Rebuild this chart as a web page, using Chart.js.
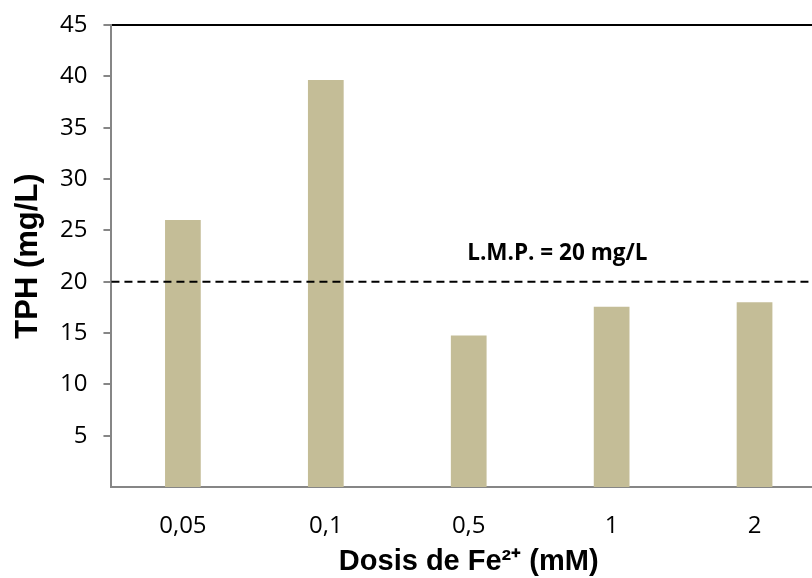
<!DOCTYPE html>
<html>
<head>
<meta charset="utf-8">
<script src="https://cdn.jsdelivr.net/npm/chart.js@4"></script>
<style>
    html, body { margin: 0; padding: 0; background: #fff; overflow: hidden; }
    #wrap { width: 840px; height: 578px; }
</style>
</head>
<body>
<div id="wrap"><canvas id="tphChart"></canvas></div>
<script>
// ===== Data =====
const doses = ["0,05", "0,1", "0,5", "1", "2"];
const tphValues = [26.0, 39.65, 14.75, 17.55, 18.0];
const yTicks = [5, 10, 15, 20, 25, 30, 35, 40, 45];
const limitValue = 20;
const limitLabel = "L.M.P. = 20 mg/L";

// ===== Dashed limit line + label =====
const limitLine = {
    id: "limitLine",
    afterDatasetsDraw(chart) {
        const { ctx, chartArea, scales } = chart;
        const y = scales.y.getPixelForValue(limitValue);
        ctx.save();
        ctx.strokeStyle = "#000";
        ctx.lineWidth = 2;
        ctx.setLineDash([8, 5]);
        ctx.beginPath();
        ctx.moveTo(chartArea.left, y);
        ctx.lineTo(chartArea.right, y);
        ctx.stroke();
        ctx.setLineDash([]);
        ctx.fillStyle = "#000";
        ctx.font = "bold 22.5px 'Open Sans'";
        ctx.textAlign = "center";
        ctx.textBaseline = "middle";
        const x = chartArea.left + (chartArea.right - chartArea.left) * 0.624;
        ctx.fillText(limitLabel, x, y - 28);
        ctx.restore();
    }
};

new Chart(document.getElementById("tphChart"), {
    type: "bar",
    data: {
        labels: doses,
        datasets: [{
            data: tphValues,
            backgroundColor: "#C4BD97",
            barPercentage: 0.25,
            categoryPercentage: 1
        }]
    },
    options: {
        responsive: true,
        maintainAspectRatio: false,
        animation: false,
        layout: { padding: { top: 3, right: 14, left: 13, bottom: 0 } },
        plugins: {
            legend: { display: false },
            tooltip: { enabled: false }
        },
        scales: {
            x: {
                grid: { display: false },
                border: { color: "#868686", width: 2 },
                ticks: { color: "#000", font: { family: "'Open Sans'", size: 24 }, padding: 17 },
                title: {
                    display: true,
                    text: "Dosis de Fe²⁺ (mM)",
                    color: "#000",
                    font: { family: "Arial, 'Liberation Sans'", size: 29, weight: "bold", lineHeight: 0.3 },
                    padding: { top: 0, bottom: 11.5 }
                }
            },
            x2: {
                position: "top",
                grid: { display: false, drawTicks: false },
                border: { color: "#000", width: 2 },
                ticks: { display: false }
            },
            y: {
                min: 0,
                max: 45,
                afterBuildTicks(scale) {
                    scale.ticks = yTicks.map(v => ({ value: v }));
                },
                grid: { drawOnChartArea: false, color: "#868686", lineWidth: 2, tickLength: 8 },
                border: { color: "#868686", width: 2 },
                ticks: { color: "#000", font: { family: "'Open Sans'", size: 24, lineHeight: 0.75 }, padding: 16 },
                title: {
                    display: true,
                    text: "TPH (mg/L)",
                    color: "#000",
                    font: { family: "Arial, 'Liberation Sans'", size: 31, weight: "bold", lineHeight: 1 },
                    padding: { top: 0, bottom: 0 }
                }
            }
        }
    },
    plugins: [limitLine]
});
</script>
</body>
</html>
